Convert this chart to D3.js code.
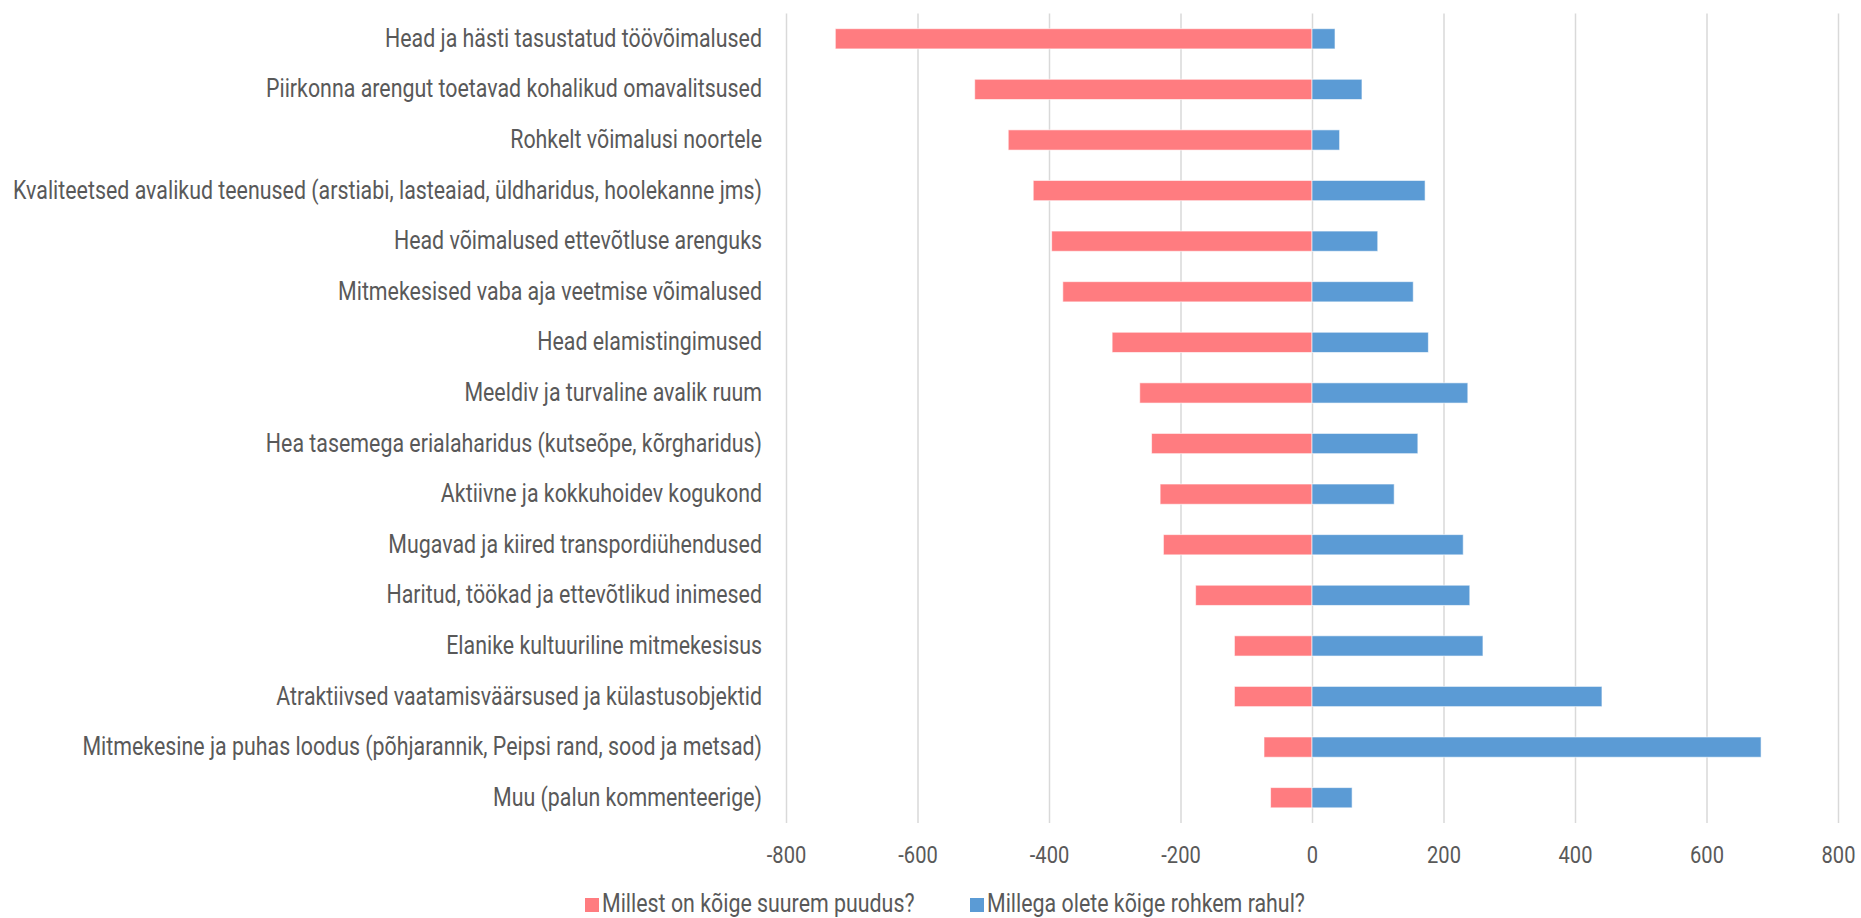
<!DOCTYPE html>
<html>
<head>
  <meta charset="utf-8">
  <script src="https://d3js.org/d3.v7.min.js"></script>
  <style>
    body { margin: 0; background: #fff; }
    text { font-family: Roboto, "Liberation Sans Narrow", sans-serif; fill: #595959; }
    .gridlines line { stroke: #d9d9d9; stroke-width: 1.5; }
    .gridlines .domain { stroke: none; }
    .axis .domain { stroke: none; }
  </style>
</head>
<body>
<script>
  // categories, top to bottom
  const categories = [
    "Head ja hästi tasustatud töövõimalused",
    "Piirkonna arengut toetavad kohalikud omavalitsused",
    "Rohkelt võimalusi noortele",
    "Kvaliteetsed avalikud teenused (arstiabi, lasteaiad, üldharidus, hoolekanne jms)",
    "Head võimalused ettevõtluse arenguks",
    "Mitmekesised vaba aja veetmise võimalused",
    "Head elamistingimused",
    "Meeldiv ja turvaline avalik ruum",
    "Hea tasemega erialaharidus (kutseõpe, kõrgharidus)",
    "Aktiivne ja kokkuhoidev kogukond",
    "Mugavad ja kiired transpordiühendused",
    "Haritud, töökad ja ettevõtlikud inimesed",
    "Elanike kultuuriline mitmekesisus",
    "Atraktiivsed vaatamisväärsused ja külastusobjektid",
    "Mitmekesine ja puhas loodus (põhjarannik, Peipsi rand, sood ja metsad)",
    "Muu (palun kommenteerige)"
  ];

  // "Millest on kõige suurem puudus?" (plotted negative)
  const puudus = [-725, -513, -462, -424, -396, -379, -304, -262, -244, -231, -226, -177, -118, -118, -73, -63];
  // "Millega olete kõige rohkem rahul?"
  const rahul = [35, 76, 42, 172, 100, 154, 177, 237, 161, 125, 230, 240, 260, 441, 683, 61];

  const seriesNames = ["Millest on kõige suurem puudus?", "Millega olete kõige rohkem rahul?"];
  const seriesColors = ["#ff7c80", "#5b9bd5"];
  const xTicks = [-800, -600, -400, -200, 0, 200, 400, 600, 800];

  const width = 1861, height = 918;
  const condense = 0.855; // squeeze Roboto so it looks like the condensed face

  const svg = d3.select('body').append('svg')
    .attr('width', width)
    .attr('height', height);

  const plotTop = 13.5, plotBottom = 823;

  const x = d3.scaleLinear().domain([-800, 800]).range([786, 1838]);
  const y = d3.scaleBand().domain(categories)
    .range([plotTop, plotBottom])
    .paddingInner(0.6)
    .paddingOuter(0.3);

  // vertical gridlines
  svg.append('g')
    .attr('class', 'gridlines')
    .attr('transform', `translate(0,${plotBottom})`)
    .call(d3.axisBottom(x).tickValues(xTicks).tickFormat('').tickSize(-(plotBottom - plotTop)));

  // bars
  const rows = categories.map((c, i) => ({ cat: c, neg: puudus[i], pos: rahul[i] }));

  svg.append('g').selectAll('rect')
    .data(rows)
    .join('rect')
    .attr('x', d => x(d.neg))
    .attr('y', d => y(d.cat))
    .attr('width', d => x(0) - x(d.neg))
    .attr('height', y.bandwidth())
    .attr('fill', seriesColors[0])
    .attr('stroke', '#fff')
    .attr('stroke-opacity', 0.6)
    .attr('stroke-width', 1);

  svg.append('g').selectAll('rect')
    .data(rows)
    .join('rect')
    .attr('x', x(0))
    .attr('y', d => y(d.cat))
    .attr('width', d => x(d.pos) - x(0))
    .attr('height', y.bandwidth())
    .attr('fill', seriesColors[1])
    .attr('stroke', '#fff')
    .attr('stroke-opacity', 0.6)
    .attr('stroke-width', 1);

  // x axis labels (plain hyphen like the original, not the unicode minus)
  const xAxis = svg.append('g')
    .attr('class', 'axis')
    .attr('transform', `translate(0,${plotBottom})`)
    .call(d3.axisBottom(x).tickValues(xTicks).tickSize(0).tickPadding(23)
      .tickFormat(d => String(d)));
  xAxis.selectAll('text')
    .style('font-size', '23.5px')
    .attr('transform', `scale(${condense},1)`);

  // category labels
  const yAxis = svg.append('g')
    .attr('class', 'axis')
    .attr('transform', `translate(${x(-800)},0)`)
    .call(d3.axisLeft(y).tickSize(0));
  yAxis.selectAll('text')
    .style('font-size', '25px')
    .attr('x', 0)
    .attr('transform', `translate(-24,0) scale(${condense},1)`);

  // legend (kept a hair above the bottom edge so descenders aren't clipped)
  const legendX = [585, 970];
  const legend = svg.append('g').selectAll('g')
    .data(seriesNames)
    .join('g')
    .attr('transform', (d, i) => `translate(${legendX[i]},898)`);

  legend.append('rect')
    .attr('width', 14)
    .attr('height', 14)
    .attr('fill', (d, i) => seriesColors[i]);

  legend.append('text')
    .attr('transform', `translate(17,14) scale(${condense},1)`)
    .style('font-size', '25px')
    .text(d => d);
</script>
</body>
</html>
